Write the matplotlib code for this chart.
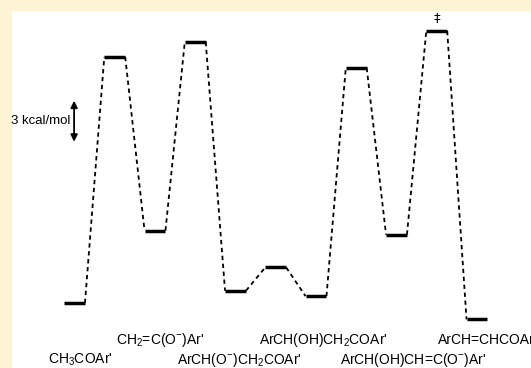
import matplotlib
matplotlib.use("Agg")
import matplotlib.pyplot as plt

plt.rcParams['font.family'] = ['Liberation Sans', 'DejaVu Sans']
plt.rcParams['mathtext.fontset'] = 'custom'
plt.rcParams['mathtext.rm'] = 'Liberation Sans'
plt.rcParams['mathtext.it'] = 'Liberation Sans:italic'
plt.rcParams['mathtext.bf'] = 'Liberation Sans:bold'

# ---- data (kcal/mol, relative to CH3COAr') ----
positions = [0, 1, 2, 3, 4, 5, 6, 7, 8, 9, 10]
energies = [0.0, 18.0, 5.3, 19.1, 0.9, 2.6, 0.5, 17.2, 5.0, 19.9, -1.2]

label_texts = [r"CH$_3$COAr'", r"CH$_2$=C(O$^{-}$)Ar'", r"ArCH(O$^{-}$)CH$_2$COAr'",
               r"ArCH(OH)CH$_2$COAr'", r"ArCH(OH)CH=C(O$^{-}$)Ar'", r"ArCH=CHCOAr'"]
label_x = [0.14, 2.12, 4.09, 6.19, 8.41, 10.27]
label_row = [1, 0, 1, 0, 1, 0]          # 0 = upper row, 1 = lower row
row_y = [-3.0, -4.45]

scale_kcal = 3.0
scale_bottom = 11.8
ts_mark_index = 9

BG = '#fff3d6'
hw = 0.26

fig = plt.figure(figsize=(5.31, 3.68), dpi=100, facecolor=BG)
left = 12 / 531
top = 11 / 368
ax = fig.add_axes([left, 0, 1 - left, 1 - top])
ax.set_facecolor('white')
ax.set_xticks([])
ax.set_yticks([])
for s in ax.spines.values():
    s.set_visible(False)

x0, dx = 74.5, 40.25
y0, dy = 303.0, 13.67
ax.set_xlim((12 - x0) / dx, (531 - x0) / dx)
ax.set_ylim((y0 - 368) / dy, (y0 - 11) / dy)

# levels
for x, e in zip(positions, energies):
    ax.plot([x - hw, x + hw], [e, e], color='black', lw=2.5, solid_capstyle='butt')

# dashed connectors
for i in range(len(positions) - 1):
    ax.plot([positions[i] + hw, positions[i + 1] - hw], [energies[i], energies[i + 1]],
            color='black', lw=1.3, linestyle=(0, (2.4, 2.0)))

# labels
for t, x, r in zip(label_texts, label_x, label_row):
    ax.text(x, row_y[r], t, ha='center', va='baseline', fontsize=10)

# transition state mark
ax.text(positions[ts_mark_index], energies[ts_mark_index] + 1.0, '‡', ha='center', va='center',
        fontsize=9.5, family=['DejaVu Sans'])

# scale bar
ax.annotate('', xy=(-0.01, scale_bottom + scale_kcal), xytext=(-0.01, scale_bottom),
            arrowprops=dict(arrowstyle='<|-|>', mutation_scale=10, lw=1.3, color='black',
                            shrinkA=0, shrinkB=0))
ax.text(-0.11, scale_bottom + scale_kcal / 2, '3 kcal/mol', ha='right', va='center', fontsize=9.5)

fig.savefig('out.png', dpi=100, facecolor=BG)
